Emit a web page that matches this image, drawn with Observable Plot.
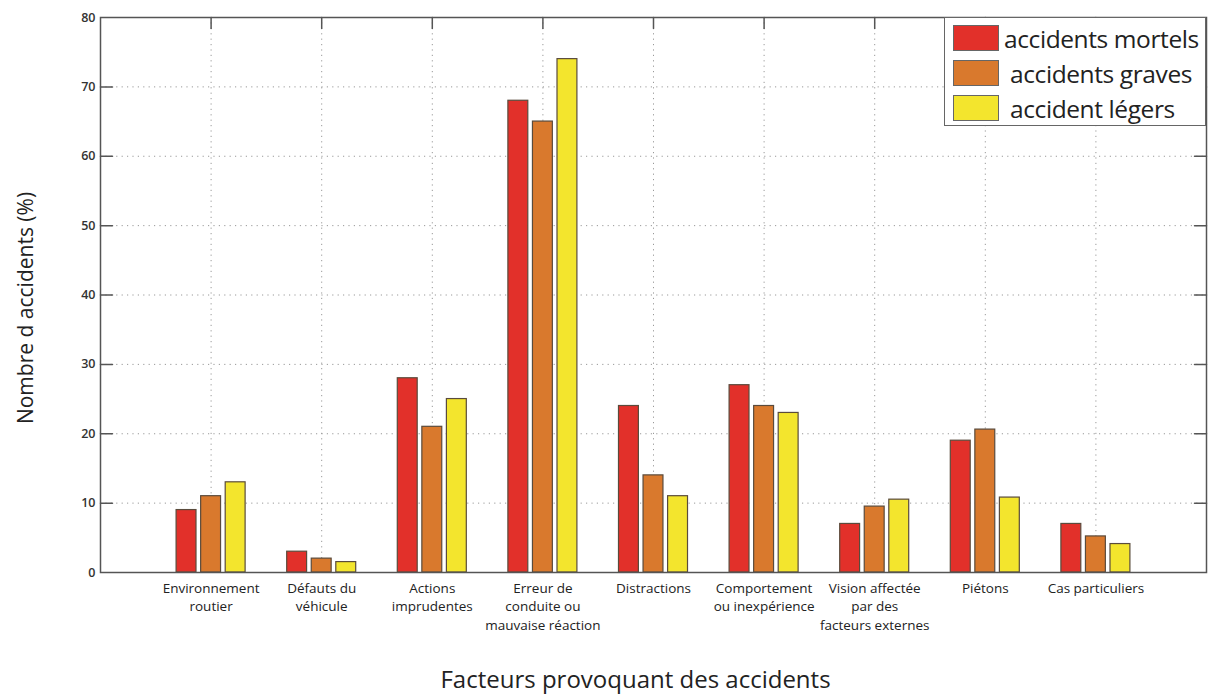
<!DOCTYPE html>
<html>
<head>
<meta charset="utf-8">
<script src="https://cdn.jsdelivr.net/npm/d3@7"></script>
<script src="https://cdn.jsdelivr.net/npm/@observablehq/plot@0.6"></script>
<style>
  html, body { margin: 0; padding: 0; background: #fff; }
  #wrap { position: relative; width: 1208px; height: 694px; }
  #legend {
    position: absolute; left: 944px; top: 17px; width: 262px; height: 109px;
    border: 1px solid #666; background: #fff; box-sizing: border-box;
    font-family: "Open Sans", sans-serif; color: #222;
  }
  .item { position: absolute; left: 8px; height: 28px; display: flex; align-items: center; }
  .sw { width: 46px; height: 26px; border: 1px solid #666; box-sizing: border-box; }
  .lab { font-size: 24.5px; margin-left: 6px; white-space: nowrap; letter-spacing: -0.4px; }
</style>
</head>
<body>
<div id="wrap"><div id="legend"></div></div>
<script>
const categories = [
  "Environnement\nroutier",
  "Défauts du\nvéhicule",
  "Actions\nimprudentes",
  "Erreur de\nconduite ou\nmauvaise réaction",
  "Distractions",
  "Comportement\nou inexpérience",
  "Vision affectée\npar des\nfacteurs externes",
  "Piétons",
  "Cas particuliers"
];
const seriesNames = ["accidents mortels", "accidents graves", "accident légers"];
const seriesColors = ["#e2302a", "#d9792d", "#f3e52d"];
const mortels = [9, 3, 28, 68, 24, 27, 7, 19, 7];
const graves  = [11, 2, 21, 65, 14, 24, 9.5, 20.6, 5.2];
const legers  = [13, 1.5, 25, 74, 11, 23, 10.5, 10.8, 4.1];
const yTicks = [0, 10, 20, 30, 40, 50, 60, 70, 80];
const xTitle = "Facteurs provoquant des accidents";
const yTitle = "Nombre d accidents (%)";

const seriesValues = [mortels, graves, legers];
const data = [];
categories.forEach((c, i) => {
  seriesValues.forEach((vals, s) => {
    data.push({pos: i + 1, series: seriesNames[s], s, value: vals[i]});
  });
});
const slot = 0.222, half = 0.09;
const xPos = categories.map((c, i) => i + 1);
const gridDash = "1.2,4.2";

const tickShape = {
  draw(context, l) { context.moveTo(0, 0); context.lineTo(0, -l); }
};

const chart = Plot.plot({
  width: 1208,
  height: 694,
  marginLeft: 100,
  marginRight: 2,
  marginTop: 17,
  marginBottom: 122,
  style: {fontFamily: "'Open Sans', sans-serif", background: "#fff"},
  x: {type: "linear", domain: [0, 10]},
  y: {domain: [0, 80]},
  color: {domain: seriesNames, range: seriesColors},
  marks: [
    Plot.gridY(yTicks.filter(d => d > 0 && d < 80), {stroke: "#999", strokeOpacity: 1, strokeDasharray: gridDash, strokeWidth: 1}),
    Plot.gridX(xPos, {stroke: "#999", strokeOpacity: 1, strokeDasharray: gridDash, strokeWidth: 1}),
    Plot.vector(yTicks.filter(d => d > 0 && d < 80), {x: 0, y: d => d, length: 12, rotate: 90, anchor: "start", shape: tickShape, stroke: "#555", strokeWidth: 1.5}),
    Plot.vector(yTicks.filter(d => d > 0 && d < 80), {x: 10, y: d => d, length: 12, rotate: -90, anchor: "start", shape: tickShape, stroke: "#555", strokeWidth: 1.5}),
    Plot.vector(xPos, {x: d => d, y: 80, length: 11, rotate: 180, anchor: "start", shape: tickShape, stroke: "#555", strokeWidth: 1.5}),
    Plot.rect(data, {
      x1: d => d.pos + (d.s - 1) * slot - half,
      x2: d => d.pos + (d.s - 1) * slot + half,
      y1: 0, y2: "value",
      fill: "series", stroke: "#5a4b3c", strokeWidth: 1.2
    }),
    Plot.frame({stroke: "#555", strokeWidth: 1.5}),
    Plot.axisY(yTicks, {tickSize: 0, tickPadding: 5, fontSize: 12.5, fontWeight: 600, fill: "#333", label: null}),
    Plot.axisX(xPos, {
      tickSize: 0, tickPadding: 7, fontSize: 13.5, fill: "#222", label: null,
      lineHeight: 1.38,
      tickFormat: d => categories[d - 1]
    }),
    Plot.text([xTitle], {frameAnchor: "bottom", dy: 108, dx: -18, fontSize: 24, fill: "#222", lineAnchor: "middle"}),
    Plot.text([yTitle], {frameAnchor: "left", textAnchor: "middle", dx: -74, dy: 13, rotate: -90, fontSize: 21, fill: "#222"})
  ]
});
document.getElementById("wrap").prepend(chart);
const legend = document.getElementById("legend");
const tops = [6, 41, 76];
const lefts = [0, 6, 6];
seriesNames.forEach((n, i) => {
  const it = document.createElement("div");
  it.className = "item";
  it.style.top = tops[i] + "px";
  const sw = document.createElement("div");
  sw.className = "sw"; sw.style.background = seriesColors[i];
  const lb = document.createElement("span");
  lb.className = "lab"; lb.textContent = n; lb.style.marginLeft = (5 + lefts[i]) + "px";
  it.append(sw, lb);
  legend.append(it);
});
</script>
</body>
</html>
